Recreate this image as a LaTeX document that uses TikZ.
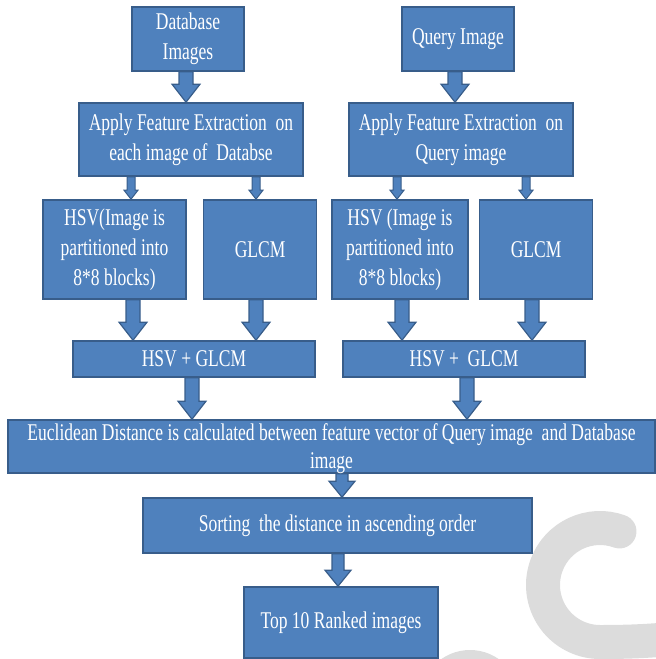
\documentclass[tikz,border=0pt]{standalone}
\usepackage{fontspec}
\setmainfont{Liberation Serif}[FakeStretch=0.73]
\usepackage{xcolor}
\definecolor{BoxBlue}{HTML}{4F81BD}
\definecolor{BoxLine}{HTML}{385D8A}
\definecolor{Smoke}{HTML}{DCDCDC}
\usepackage{tikz}
\usetikzlibrary{calc, positioning}

\tikzset{
  arrowdims/.code args={#1/#2/#3}{\def\arrshaft{#1}\def\arrhead{#2}\def\arrlen{#3}},
  bigarrow/.style={draw=BoxLine, fill=BoxBlue, line width=1.2pt, arrowdims=7/14/18},
  midarrow/.style={draw=BoxLine, fill=BoxBlue, line width=1.2pt, arrowdims=6/13/16},
  smallarrow/.style={draw=BoxLine, fill=BoxBlue, line width=1pt, arrowdims=4/7/9},
}

% block arrow straight down at x=#2 from node #3 to node #4
\newcommand{\blockarrow}[4][bigarrow]{%
  \path[#1] let \p1 = (#3.south), \p2 = (#4.north) in
    (#2-\arrshaft, \y1) -- (#2-\arrshaft, \y2+\arrlen) -- (#2-\arrhead, \y2+\arrlen)
    -- (#2, \y2) -- (#2+\arrhead, \y2+\arrlen) -- (#2+\arrshaft, \y2+\arrlen)
    -- (#2+\arrshaft, \y1) -- cycle;}

\begin{document}
\begin{tikzpicture}[x=1pt, y=-1pt,
  box/.style={rectangle, draw=BoxLine, fill=BoxBlue, line width=1.6pt, text=white,
    font=\fontsize{24}{30}\selectfont, align=center, inner sep=0pt},
  ring/.style={draw=Smoke, line width=34pt, line cap=round},
]
\useasboundingbox (0,0) rectangle (656,659);

%% -- Background mark -------------------------------------------
\begin{scope}
  \clip (0,0) rectangle (656,659);
  \fill[Smoke] (470,700) circle[radius=50];
  \draw[ring] (600,585) ++(-70:57) arc[start angle=-70, end angle=-270, radius=57]
    .. controls (630,642) and (655,641) .. (690,637);
\end{scope}

%% -- Inputs ----------------------------------------------------
\node[box, minimum width=112, minimum height=64] at (188, 39) (dbimg) {Database\\Images};
\node[box, minimum width=112, minimum height=64] at (458, 39) (qimg) {Query Image};

%% -- Feature extraction ----------------------------------------
\node[box, minimum width=224, minimum height=73] at (191, 139.5) (fedb)
  {Apply Feature Extraction~ on\\each image of~ Databse};
\node[box, minimum width=224, minimum height=73] at (461, 139.5) (feq)
  {Apply Feature Extraction~ on\\Query image};

%% -- HSV and GLCM ----------------------------------------------
\node[box, minimum width=143, minimum height=99] at (114.5, 249.5) (hsvdb)
  {HSV(Image is\\partitioned into\\8*8 blocks)};
\node[box, minimum width=113, minimum height=99, right=16pt of hsvdb] (glcmdb) {GLCM};
\node[box, minimum width=136, minimum height=99] at (400, 249.5) (hsvq)
  {HSV (Image is\\partitioned into\\8*8 blocks)};
\node[box, minimum width=113, minimum height=99, right=10pt of hsvq] (glcmq) {GLCM};

%% -- Combined features -----------------------------------------
\node[box, minimum width=242, minimum height=36] at (194, 359) (combdb) {HSV + GLCM};
\node[box, minimum width=242, minimum height=36] at (464, 359) (combq) {HSV +~ GLCM};

%% -- Matching and ranking --------------------------------------
\node[box, minimum width=647, minimum height=53] at (331.5, 446.5) (eucl) {};
\node[box, minimum width=389, minimum height=55] at (337.5, 525.5) (sort)
  {Sorting~ the distance in ascending order};
\node[box, minimum width=194, minimum height=71] at (341, 622.5) (ranked) {Top 10 Ranked images};

%% Arrows
\blockarrow{186}{dbimg}{fedb}
\blockarrow{455}{qimg}{feq}
\blockarrow[smallarrow]{131}{fedb}{hsvdb}
\blockarrow[smallarrow]{256}{fedb}{glcmdb}
\blockarrow[smallarrow]{397}{feq}{hsvq}
\blockarrow[smallarrow]{526}{feq}{glcmq}
\blockarrow{133}{hsvdb}{combdb}
\blockarrow{256}{glcmdb}{combdb}
\blockarrow{402}{hsvq}{combq}
\blockarrow{532}{glcmq}{combq}
\blockarrow{192}{combdb}{eucl}
\blockarrow{467}{combq}{eucl}
\blockarrow[midarrow]{342}{eucl}{sort}
\blockarrow[midarrow]{338}{sort}{ranked}

\node[text=white, font=\fontsize{24}{28}\selectfont, align=center]
  at ([yshift=-2.4pt]eucl.center) (eucltext)
  {Euclidean Distance is calculated between feature vector of Query image~ and Database\\image};

\end{tikzpicture}
\end{document}
